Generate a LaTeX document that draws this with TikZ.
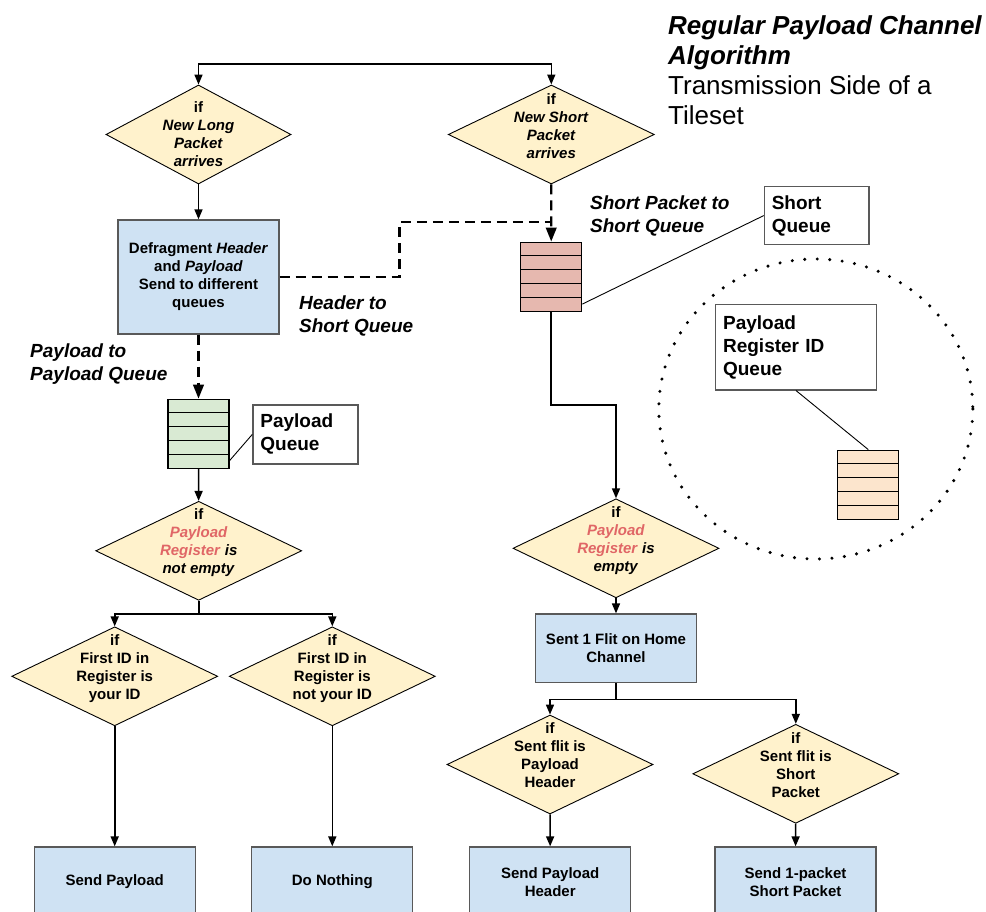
\documentclass[tikz,border=0pt]{standalone}
\usepackage{fontspec}
\setmainfont{Liberation Sans}
\usepackage{xcolor}
\usetikzlibrary{shapes.geometric, arrows.meta, positioning, calc}
\definecolor{decfill}{HTML}{FFF2CC}
\definecolor{stepfill}{HTML}{CFE2F3}
\definecolor{shortq}{HTML}{E6B8AF}
\definecolor{payq}{HTML}{D9EAD3}
\definecolor{regq}{HTML}{FCE5CD}
\definecolor{hilite}{HTML}{E06666}
\definecolor{edge}{HTML}{595959}
\tikzset{
  decision/.style = {diamond, draw=black, line width=0.9pt, fill=decfill, inner sep=0pt,
                     minimum width=206pt, minimum height=99pt},
  dtext/.style    = {align=center, inner sep=0pt, font=\fontsize{15}{18}\selectfont\bfseries},
  stepbox/.style  = {rectangle, draw=edge, line width=1.3pt, fill=stepfill, align=center,
                     minimum width=161pt, font=\fontsize{15}{18}\selectfont\bfseries},
  queue/.style    = {rectangle, draw=black, line width=1.2pt, inner sep=0pt,
                     minimum width=61pt, minimum height=69pt},
  callout/.style  = {rectangle, draw=edge, line width=1.2pt, fill=white, align=left, anchor=north west,
                     inner sep=7.5pt, font=\fontsize{19}{23}\selectfont\bfseries},
  tag/.style      = {align=left, anchor=west, inner sep=0pt, font=\fontsize{19}{23}\selectfont\bfseries\itshape},
  title/.style    = {align=left, anchor=north west, inner sep=0pt, font=\fontsize{26}{30}\selectfont},
  flow/.style     = {-{Triangle[length=10pt,width=8pt]}, draw=black, line width=1.6pt},
  flowdash/.style = {flow, line width=2.4pt, dash pattern=on 10pt off 6pt, -{Triangle[length=14pt,width=10.5pt]}},
  pointer/.style  = {draw=black, line width=0.9pt},
  ring/.style     = {draw=black, line width=3.4pt, line cap=round, dash pattern=on 0pt off 12.5pt},
}
\begin{document}
\begin{tikzpicture}[x=1pt, y=-1pt]
  \path[use as bounding box] (0,0) rectangle (986,912);
  \clip (0,0) rectangle (986,912);

  \node[title] (head) at (668,15)
    {\textbf{\textit{Regular Payload Channel}}\\\textbf{\textit{Algorithm}}\\Transmission Side of a\\Tileset};

  % arrivals
  \coordinate (split) at (384,64);
  \node[decision, minimum width=185pt] (newlong) at (198.5,134.5) {};
  \node[dtext] (newlongtxt) at (newlong.center) {if\\\textit{New Long}\\\textit{Packet}\\\textit{arrives}};
  \node[decision] (newshort) at (551.3,134.5) {};
  \node[dtext] (newshorttxt) at ([yshift=8pt]newshort.center) {if\\\textit{New Short}\\\textit{Packet}\\\textit{arrives}};
  \draw[flow] (split) -| (newlong);
  \draw[flow] (split) -| (newshort);

  % long packet
  \node[stepbox, minimum height=114pt] (defrag) at (198.5,277)
    {Defragment \textit{Header}\\and \textit{Payload}\\Send to different\\queues};
  \draw[flow] (newlong) -- (defrag);
  \node[queue, fill=payq] (pq) at (198.5,433.8) {};
  \draw[flowdash] (defrag) -- (pq);
  \node[tag] (paytag) at (30,364.5) {Payload to\\Payload Queue};

  % short packet
  \node[queue, fill=shortq] (sq) at (551.2,276.7) {};
  \coordinate (hdrbend) at (399.3,222.3);
  \draw[flowdash] (newshort) -- (sq);
  \draw[flowdash, -] (defrag.east) -| (hdrbend) -- (hdrbend -| sq.north);
  \node[tag] (hdrtag) at (299,315.5) {Header to\\Short Queue};
  \node[tag] (shorttag) at (590,215.5) {Short Packet to\\Short Queue};

  % register id queue
  \draw[ring] (815.8,409) ellipse [x radius=157, y radius=150];
  \node[callout, text width=145.7pt, minimum height=85.3pt] (rqnote) at (715,304) {Payload\\Register ID\\Queue};
  \node[queue, fill=regq] (rq) at (868.3,484.7) {};
  \draw[pointer] (rqnote.south) -- (rq.north);

  \foreach \q in {sq, pq, rq}
    \foreach \k in {1,...,4}
      \draw[line width=1.2pt] ($(\q.north west)!\k/5!(\q.south west)$) -- ($(\q.north east)!\k/5!(\q.south east)$);

  \node[callout, text width=89.6pt, minimum height=58.6pt] (sqnote) at (763.7,185.7) {Short\\Queue};
  \draw[pointer] ($(sq.south east)+(0,-7.7)$) -- (sqnote.west);
  \node[callout, text width=90pt, minimum height=59pt] (pqnote) at (252.3,404.3) {Payload\\Queue};
  \draw[pointer] ($(pq.south east)+(0,-8.3)$) -- (pqnote.west);

  % register checks
  \node[decision] (notempty) at (198.7,550.8) {};
  \node[dtext] (notemptytxt) at ([yshift=8pt]notempty.center)
    {if\\\textcolor{hilite}{\textit{Payload}}\\\textcolor{hilite}{\textit{Register}} \textit{is}\\\textit{not empty}};
  \draw[flow] (pq) -- (notempty);
  \coordinate (sqbend) at (551.2,405);
  \node[decision] (emptyreg) at (616,548.3) {};
  \node[dtext] (emptyregtxt) at ([yshift=8pt]emptyreg.center)
    {if\\\textcolor{hilite}{\textit{Payload}}\\\textcolor{hilite}{\textit{Register}} \textit{is}\\\textit{empty}};
  \draw[flow] (sq.south) -- (sqbend) -| (emptyreg.north);

  % payload sending
  \node[decision] (yourid) at (114.7,676.3) {};
  \node[dtext] (youridtxt) at ([yshift=8pt]yourid.center) {if\\First ID in\\Register is\\your ID};
  \node[decision] (notyourid) at (332.3,676.3) {};
  \node[dtext] (notyouridtxt) at ([yshift=8pt]notyourid.center) {if\\First ID in\\Register is\\not your ID};
  \draw[flow] (notempty.south) -- ++(0,13.2) -| (yourid.north);
  \draw[flow] (notempty.south) -- ++(0,13.2) -| (notyourid.north);
  \node[stepbox, minimum height=70pt] (sendpay) at (114.7,882) {Send Payload};
  \node[stepbox, minimum height=70pt] (donothing) at (332.3,882) {Do Nothing};
  \draw[flow] (yourid) -- (sendpay);
  \draw[flow] (notyourid) -- (donothing);

  % home channel
  \node[stepbox, minimum height=68.3pt] (sentflit) at (616,648.2) {Sent 1 Flit on Home\\Channel};
  \draw[flow] (emptyreg) -- (sentflit);
  \node[decision] (payhdr) at (550,764.5) {};
  \node[dtext] (payhdrtxt) at ([yshift=9pt]payhdr.center) {if\\Sent flit is\\Payload\\Header};
  \node[decision] (shortpkt) at (795.8,773.8) {};
  \node[dtext] (shortpkttxt) at ([yshift=9pt]shortpkt.center) {if\\Sent flit is\\Short\\Packet};
  \draw[flow] (sentflit.south) -- ++(0,16.4) -| (payhdr.north);
  \draw[flow] (sentflit.south) -- ++(0,16.4) -| (shortpkt.north);
  \node[stepbox, minimum height=70pt] (sendhdr) at (550.2,882) {Send Payload\\Header};
  \node[stepbox, minimum height=70pt] (sendshort) at (795.5,882) {Send 1-packet\\Short Packet};
  \draw[flow] (payhdr) -- (sendhdr);
  \draw[flow] (shortpkt) -- (sendshort);
\end{tikzpicture}
\end{document}
